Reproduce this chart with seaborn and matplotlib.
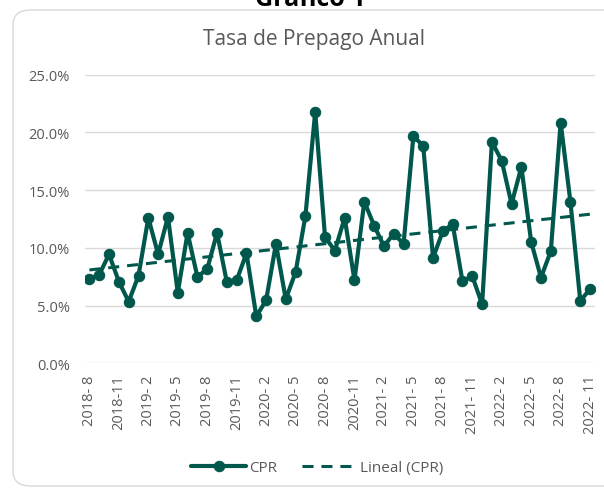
import matplotlib
matplotlib.use("Agg")
import matplotlib.pyplot as plt
from matplotlib.patches import FancyBboxPatch
import seaborn as sns
import pandas as pd

# monthly CPR values (%), 2018-8 .. 2022-11
months = [f"{y}-{m}" for y, m in
          [(2018, m) for m in range(8, 13)] +
          [(y, m) for y in (2019, 2020, 2021) for m in range(1, 13)] +
          [(2022, m) for m in range(1, 12)]]
cpr = [7.31, 7.68, 9.44, 7.07, 5.34, 7.59, 12.59, 9.44, 12.68, 6.12,
       11.29, 7.48, 8.17, 11.29, 7.02, 7.20, 9.53, 4.07, 5.46, 10.34,
       5.55, 7.89, 12.74, 21.78, 10.92, 9.76, 12.59, 7.19, 14.00, 11.93,
       10.14, 11.23, 10.34, 19.67, 18.83, 9.13, 11.44, 12.05, 7.11, 7.54,
       5.11, 19.18, 17.53, 13.80, 17.01, 10.51, 7.42, 9.73, 20.85, 13.95,
       5.40, 6.44]
tick_labels = ["2018- 8", "2018-11", "2019- 2", "2019- 5", "2019- 8", "2019-11",
               "2020- 2", "2020- 5", "2020- 8", "2020-11", "2021- 2", "2021- 5",
               "2021- 8", "2021- 11", "2022- 2", "2022- 5", "2022- 8", "2022- 11"]
y_ticks = [0, 5, 10, 15, 20, 25]

df = pd.DataFrame({"idx": range(len(cpr)), "mes": months, "CPR": cpr})

sns.set_style("white")
plt.rcParams['font.family'] = ['Open Sans', 'DejaVu Sans']

green = "#00574B"
grey_txt = "#595959"

fig = plt.figure(figsize=(6.04, 4.89), dpi=100)
box = FancyBboxPatch((13 / 604, 2 / 489), 620 / 604, 476 / 489,
                     boxstyle="round,pad=0,rounding_size=0.03",
                     transform=fig.transFigure, facecolor="white",
                     edgecolor="#D9D9D9", linewidth=1.0, zorder=-5)
fig.patches.append(box)
ax = fig.add_axes([85 / 604, 1 - 364.3 / 489, 510 / 604, (364.3 - 75.6) / 489])
ax.set_facecolor("none")

sns.lineplot(data=df, x="idx", y="CPR", ax=ax, color=green, linewidth=3,
             marker="o", markersize=7.5, markeredgecolor=green, label="CPR")
sns.regplot(data=df, x="idx", y="CPR", ax=ax, scatter=False, ci=None,
            line_kws=dict(color=green, linewidth=2.2, linestyle=(0, (3.6, 2.6)), zorder=4),
            label="Lineal (CPR)")

ax.set_xlim(-0.45, 51.5)
ax.set_ylim(0, 25)
ax.set_yticks(y_ticks)
ax.set_yticklabels([f"{v:.1f}%" for v in y_ticks], fontsize=10.5, color=grey_txt)
ax.set_xticks(range(0, len(cpr), 3))
ax.set_xticklabels(tick_labels, rotation=90, fontsize=10.5, color=grey_txt)
ax.tick_params(axis="y", length=0, pad=11)
ax.tick_params(axis="x", length=0, pad=8)
ax.grid(axis="y", color="#D9D9D9", linewidth=1)
ax.set_axisbelow(True)
for s in ax.spines.values():
    s.set_visible(False)
ax.set_xlabel("")
ax.set_ylabel("")

ax.legend(loc="center", bbox_to_anchor=(317 / 604, 1 - 469 / 489),
          bbox_transform=fig.transFigure, ncol=2, frameon=False, fontsize=11,
          labelcolor=grey_txt, handlelength=3.6, handletextpad=0.2,
          columnspacing=1.6)

fig.text(314 / 604, 1 - 40 / 489, "Tasa de Prepago Anual", ha="center", va="center",
         fontsize=15, color=grey_txt)
fig.text(310 / 604, 1 - 6 / 489, "Gráfico 1", ha="center", va="baseline",
         fontsize=18, fontweight="bold", color="black")

fig.savefig("out.png", dpi=100)
